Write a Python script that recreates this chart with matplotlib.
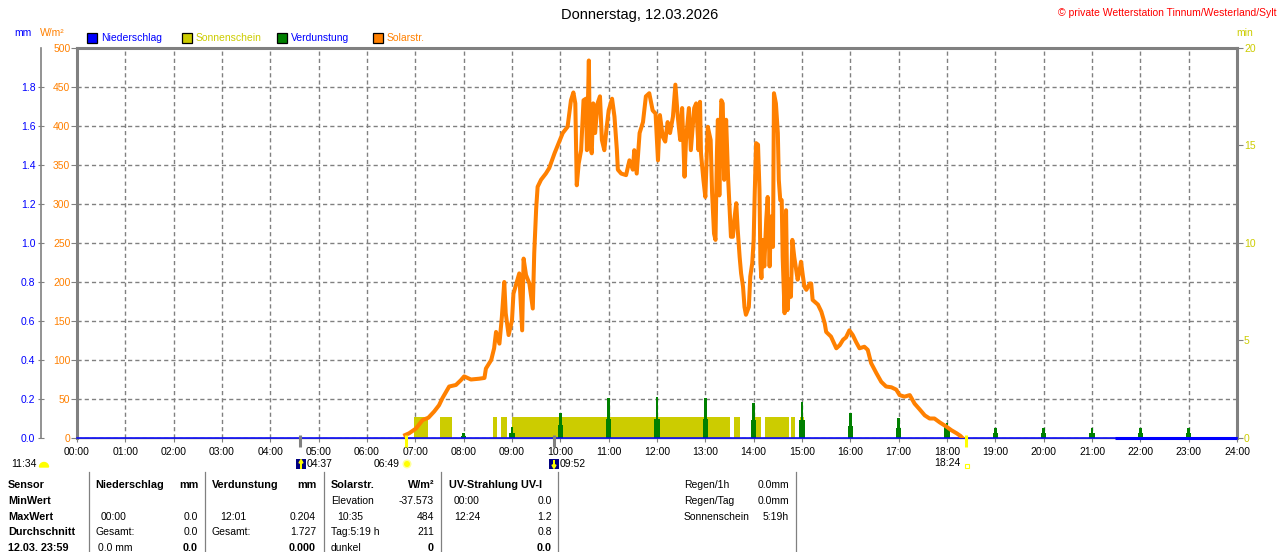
import matplotlib
matplotlib.use('Agg')
import matplotlib.pyplot as plt
from matplotlib.patches import Rectangle, Circle, Wedge, Polygon
from matplotlib.transforms import IdentityTransform
import numpy as np

plt.rcParams['font.family'] = ['Liberation Sans', 'DejaVu Sans']

# --- data ---
hour_ticks = list(range(25))
hour_labels = ['%02d:00' % h for h in hour_ticks]

solar_h = [6.79, 6.87, 7.01, 7.15, 7.27, 7.39, 7.49, 7.56, 7.70, 7.84, 7.94, 8.01, 8.15, 8.32, 8.43,
           8.46, 8.57, 8.63, 8.67, 8.74, 8.79, 8.84, 8.87, 8.93, 9.00, 9.03, 9.15, 9.21, 9.24, 9.29,
           9.36, 9.43, 9.46, 9.50, 9.53, 9.60, 9.70,
           9.77, 9.88, 10.05, 10.15, 10.22, 10.27, 10.31, 10.34, 10.38, 10.43, 10.48, 10.53, 10.55,
           10.59, 10.61, 10.65, 10.68, 10.72, 10.77, 10.82, 10.86, 10.91, 10.96, 11.00, 11.07, 11.12,
           11.17, 11.19, 11.26, 11.36, 11.43, 11.50, 11.53, 11.58, 11.64, 11.71, 11.77, 11.84, 11.91,
           11.97, 12.02, 12.06, 12.12, 12.17, 12.22, 12.27, 12.33, 12.38, 12.43, 12.48, 12.52, 12.57,
           12.60, 12.66, 12.70, 12.77, 12.81, 12.86,
           12.89, 12.91, 12.96, 13.00, 13.05, 13.11, 13.14, 13.18, 13.21, 13.24, 13.26, 13.29, 13.33,
           13.36, 13.39, 13.43, 13.47, 13.50, 13.53, 13.57, 13.60, 13.64, 13.67, 13.71, 13.74, 13.78,
           13.81, 13.84, 13.90, 13.93, 13.97, 14.00, 14.02, 14.05, 14.09, 14.12, 14.14, 14.16, 14.19,
           14.22, 14.26, 14.29, 14.33, 14.36, 14.40, 14.42, 14.46, 14.50, 14.52, 14.55, 14.58, 14.60,
           14.64, 14.67, 14.70, 14.74, 14.77, 14.80, 14.84, 14.88, 14.91, 14.95, 14.98, 15.02, 15.05,
           15.09, 15.16,
           15.19, 15.22, 15.33, 15.40, 15.47, 15.50, 15.60, 15.71, 15.78, 15.85, 15.91, 15.98, 16.05,
           16.12, 16.19, 16.29, 16.36, 16.43, 16.54, 16.64, 16.74, 16.85, 16.95, 17.02, 17.12, 17.23,
           17.33, 17.43, 17.54, 17.64, 17.74, 17.85, 17.99, 18.09, 18.20, 18.28, 18.32]
solar_wm2 = [3.8, 6, 12, 23, 26, 34, 42, 51, 66, 68, 74, 79, 75, 76, 77,
             89, 100, 115, 136, 121, 155, 200, 160, 132, 151, 185, 211, 138, 230, 209,
             198, 166, 237, 294, 322, 331, 339,
             346, 365, 391, 399, 433, 443, 429, 324, 352, 369, 433, 435, 369,
             484, 382, 365, 429, 391, 429, 438, 382, 369, 399, 420, 435, 412,
             369, 344, 339, 337, 356, 344, 369, 339, 391, 405, 438, 442, 420,
             416, 356, 414, 386, 380, 405, 391, 412, 453, 412, 382, 423, 335,
             382, 423, 369, 423, 429, 369,
             431, 365, 331, 309, 399, 382, 314, 262, 254, 367, 408, 311, 433,
             429, 331, 408, 335, 297, 258, 258, 280, 301, 267, 232, 211, 194,
             168, 158, 168, 207, 224, 254, 309, 378, 376, 318, 224, 205, 254,
             220, 280, 309, 220, 284, 245, 442, 429, 391, 331, 305, 305, 232,
             160, 292, 164, 203, 181, 254, 232, 215, 203, 215, 226, 207, 194,
             190, 198,
             198, 177, 171, 162, 147, 136, 130, 115, 119, 126, 129, 138, 132,
             123, 115, 117, 113, 96, 83, 72, 66, 65, 62, 55, 53, 55,
             44, 37, 29, 25, 25, 20, 14.5, 10, 6, 2.6, 0]

sun_start = [6.98, 7.51, 8.61, 8.78, 8.99, 13.59, 14.02, 14.24, 14.78, 14.95]
sun_end = [7.27, 7.76, 8.70, 8.89, 13.52, 13.71, 14.15, 14.73, 14.86, 15.05]
sun_min = [1.1, 1.1, 1.1, 1.1, 1.1, 1.1, 1.1, 1.1, 1.1, 1.1]

evap_h = [8, 9, 10, 11, 12, 13, 14, 15, 16, 17, 18, 19, 20, 21, 22, 23]
evap_peak = [0.027, 0.055, 0.13, 0.207, 0.209, 0.204, 0.18, 0.185, 0.13, 0.104, 0.078,
             0.053, 0.053, 0.053, 0.053, 0.053]
evap_base = [0.012, 0.027, 0.065, 0.10, 0.10, 0.10, 0.09, 0.09, 0.063, 0.05, 0.055,
             0.027, 0.027, 0.027, 0.027, 0.027]

rain_h = [0, 24]
rain_mm = [0.0, 0.0]
rain_thick_from = 21.47

moonrise, sunrise, moonset, sunset = 4.617, 6.817, 9.867, 18.4

GRAY = '#808080'
ORANGE = '#ff8000'
BLUE = '#0000ff'
YELLOW = '#cccc00'
GREEN = '#008000'

W, H = 1280, 552


def fx(x):
    return x / W


def fy(y):
    return 1 - y / H


fig = plt.figure(figsize=(12.8, 5.52), dpi=100)
L, R, T, B = 77, 1237, 48, 438
ax = fig.add_axes([fx(L), fy(B), (R - L) / W, (B - T) / H])
ax_sun = ax.twinx()
ax_mm = ax.twinx()
ax_sol = ax.twinx()

# host axis: grid, W/m2 scale, time axis
ax.set_xlim(0, 24)
ax.set_ylim(0, 500)
ax.set_xticks(hour_ticks)
ax.set_xticklabels(hour_labels)
ax.set_yticks(range(0, 501, 50))
ax.grid(True, color=GRAY, linestyle=(0, (3, 2.2)), linewidth=1)
ax.set_axisbelow(True)
ax.tick_params(axis='x', direction='out', length=3, color=GRAY, labelsize=7.5, pad=3.5)
ax.tick_params(axis='y', direction='out', length=4.3, color=GRAY, labelcolor=ORANGE,
               labelsize=7.5, pad=0.5)
for s in ['top', 'left', 'right']:
    ax.spines[s].set_color(GRAY)
    ax.spines[s].set_linewidth(2.2)
ax.spines['bottom'].set_color(GRAY)
ax.spines['bottom'].set_linewidth(1)

# sunshine minutes
ax_sun.set_ylim(0, 20)
ax_sun.set_yticks([0, 5, 10, 15, 20])
ax_sun.bar(sun_start, sun_min, width=np.subtract(sun_end, sun_start), align='edge',
           color=YELLOW, linewidth=0)
ax_sun.tick_params(axis='y', direction='out', length=4, color=GRAY, labelcolor=YELLOW,
                   labelsize=7.5, pad=1)
for s in ax_sun.spines.values():
    s.set_visible(False)

# evaporation and rain in mm
ax_mm.set_ylim(0, 2)
ax_mm.bar(evap_h, evap_base, width=0.105, color=GREEN, linewidth=0)
ax_mm.bar(evap_h, evap_peak, width=0.058, color=GREEN, linewidth=0)
ax_mm.plot(rain_h, rain_mm, color=BLUE, lw=1.1, clip_on=False)
ax_mm.plot([rain_thick_from, rain_h[-1]], [rain_mm[0], rain_mm[-1]], color=BLUE, lw=2.2,
           clip_on=False, solid_capstyle='butt')
ax_mm.yaxis.set_ticks_position('left')
ax_mm.yaxis.set_label_position('left')
ax_mm.set_yticks(np.arange(0, 1.81, 0.2))
ax_mm.set_yticklabels(['%.1f' % v for v in np.arange(0, 1.81, 0.2)])
for s in ['top', 'right', 'bottom']:
    ax_mm.spines[s].set_visible(False)
ax_mm.spines['left'].set_position(('outward', 26))
ax_mm.spines['left'].set_color(GRAY)
ax_mm.spines['left'].set_linewidth(1.2)
ax_mm.tick_params(axis='y', direction='inout', length=5, color=GRAY, labelcolor=BLUE,
                  labelsize=7.5, pad=1.5)

# solar radiation
ax_sol.set_ylim(0, 500)
ax_sol.plot(solar_h, solar_wm2, color=ORANGE, lw=2.9)
ax_sol.yaxis.set_visible(False)
for s in ax_sol.spines.values():
    s.set_visible(False)

# sun / moon event marks on the time axis
tr = ax.get_xaxis_transform()
for t, c in [(moonrise, GRAY), (moonset, GRAY), (sunrise, '#ffff00'), (sunset, '#ffff00')]:
    ax_sol.plot([t, t], [-0.022, 0.008], color=c, lw=2.2, transform=tr, clip_on=False,
                solid_capstyle='butt')

# texts on top
fig.text(0.5, fy(15), 'Donnerstag, 12.03.2026', ha='center', va='center', fontsize=10.5)
fig.text(fx(1277), fy(12.5), '\u00a9 private Wetterstation Tinnum/Westerland/Sylt', ha='right',
         va='center', fontsize=7.5, color='red')
fig.text(fx(14), fy(33), 'mm', ha='left', va='center', fontsize=7.5, color=BLUE)
fig.text(fx(40), fy(33), 'W/m\u00b2', ha='left', va='center', fontsize=7.5, color=ORANGE)
fig.text(fx(1245), fy(33), 'min', ha='center', va='center', fontsize=7.5, color=YELLOW)

legend_items = [(87, BLUE, 'Niederschlag', BLUE), (182, YELLOW, 'Sonnenschein', YELLOW),
                (277, GREEN, 'Verdunstung', BLUE), (373, ORANGE, 'Solarstr.', ORANGE)]
for x0, fc, txt, tc in legend_items:
    fig.add_artist(Rectangle((fx(x0), fy(43)), 9.5 / W, 10 / H, transform=fig.transFigure,
                             facecolor=fc, edgecolor='black', lw=0.9))
    fig.text(fx(x0 + 14), fy(38), txt, ha='left', va='center', fontsize=7.5, color=tc)

# labels for sun/moon events below the axis
ID = IdentityTransform()
fig.text(fx(11), fy(464), '11:34', ha='left', va='center', fontsize=7.5)
fig.add_artist(Wedge((44, H - 467), 4.5, 0, 180, transform=ID, color='#ffff00'))
fig.add_artist(Rectangle((296, H - 469), 10, 10, transform=ID, facecolor='#000080', lw=0))
fig.add_artist(Polygon([(299, H - 463), (301, H - 459.5), (303, H - 463)], closed=True,
                       transform=ID, color='#ffff00'))
fig.add_artist(Rectangle((300.4, H - 468.5), 1.3, 5.5, transform=ID, color='#ffff00', lw=0))
fig.text(fx(307), fy(464), '04:37', ha='left', va='center', fontsize=7.5)
fig.text(fx(400), fy(464), '06:49', ha='right', va='center', fontsize=7.5)
fig.add_artist(Circle((407, H - 464), 4.5, transform=ID, color='#ffff99', lw=0))
fig.add_artist(Circle((407, H - 464), 3, transform=ID, color='#ffff00', lw=0))
fig.add_artist(Rectangle((549, H - 469), 10, 10, transform=ID, facecolor='#000080', lw=0))
fig.add_artist(Polygon([(552, H - 465), (554, H - 468.5), (556, H - 465)], closed=True,
                       transform=ID, color='#ffff00'))
fig.add_artist(Rectangle((553.4, H - 465.5), 1.3, 5.5, transform=ID, color='#ffff00', lw=0))
fig.text(fx(560), fy(464), '09:52', ha='left', va='center', fontsize=7.5)
fig.text(fx(960), fy(463), '18:24', ha='right', va='center', fontsize=7.5)
fig.add_artist(Rectangle((964.5, H - 468), 4, 4, transform=ID, facecolor='none',
                         edgecolor='#ffff00', lw=0.8))

# summary table
rows_y = [485, 501, 517, 532, 548]
for xs in [89, 205, 324, 441, 558, 796]:
    fig.add_artist(plt.Line2D([fx(xs), fx(xs)], [fy(472), 0], transform=fig.transFigure,
                              color=GRAY, lw=0.9))

row_names = ['Sensor', 'MinWert', 'MaxWert', 'Durchschnitt', '12.03. 23:59']
for y, t in zip(rows_y, row_names):
    fig.text(fx(8), fy(y), t, ha='left', va='center', fontsize=7.8, fontweight='bold')

# (x, row, text, align, bold)
cells = [
    (95, 0, 'Niederschlag', 'left', True), (198, 0, 'mm', 'right', True),
    (101, 2, '00:00', 'left', False), (198, 2, '0.0', 'right', False),
    (95, 3, 'Gesamt:', 'left', False), (198, 3, '0.0', 'right', False),
    (98, 4, '0.0 mm', 'left', False), (198, 4, '0.0', 'right', True),
    (212, 0, 'Verdunstung', 'left', True), (316, 0, 'mm', 'right', True),
    (220, 2, '12:01', 'left', False), (316, 2, '0.204', 'right', False),
    (212, 3, 'Gesamt:', 'left', False), (316, 3, '1.727', 'right', False),
    (316, 4, '0.000', 'right', True),
    (331, 0, 'Solarstr.', 'left', True), (434, 0, 'W/m\u00b2', 'right', True),
    (331, 1, 'Elevation', 'left', False), (434, 1, '-37.573', 'right', False),
    (337, 2, '10:35', 'left', False), (434, 2, '484', 'right', False),
    (331, 3, 'Tag:5:19 h', 'left', False), (434, 3, '211', 'right', False),
    (331, 4, 'dunkel', 'left', False), (434, 4, '0', 'right', True),
    (449, 0, 'UV-Strahlung UV-I', 'left', True),
    (454, 1, '00:00', 'left', False), (552, 1, '0.0', 'right', False),
    (454, 2, '12:24', 'left', False), (552, 2, '1.2', 'right', False),
    (552, 3, '0.8', 'right', False), (552, 4, '0.0', 'right', True),
    (684, 0, 'Regen/1h', 'left', False), (789, 0, '0.0mm', 'right', False),
    (684, 1, 'Regen/Tag', 'left', False), (789, 1, '0.0mm', 'right', False),
    (684, 2, 'Sonnenschein', 'left', False), (789, 2, '5:19h', 'right', False),
]
for x, r, t, ha, bold in cells:
    fig.text(fx(x), fy(rows_y[r]), t, ha=ha, va='center',
             fontsize=7.8 if bold else 7.5, fontweight='bold' if bold else 'normal')

fig.savefig('out.png', dpi=100)
